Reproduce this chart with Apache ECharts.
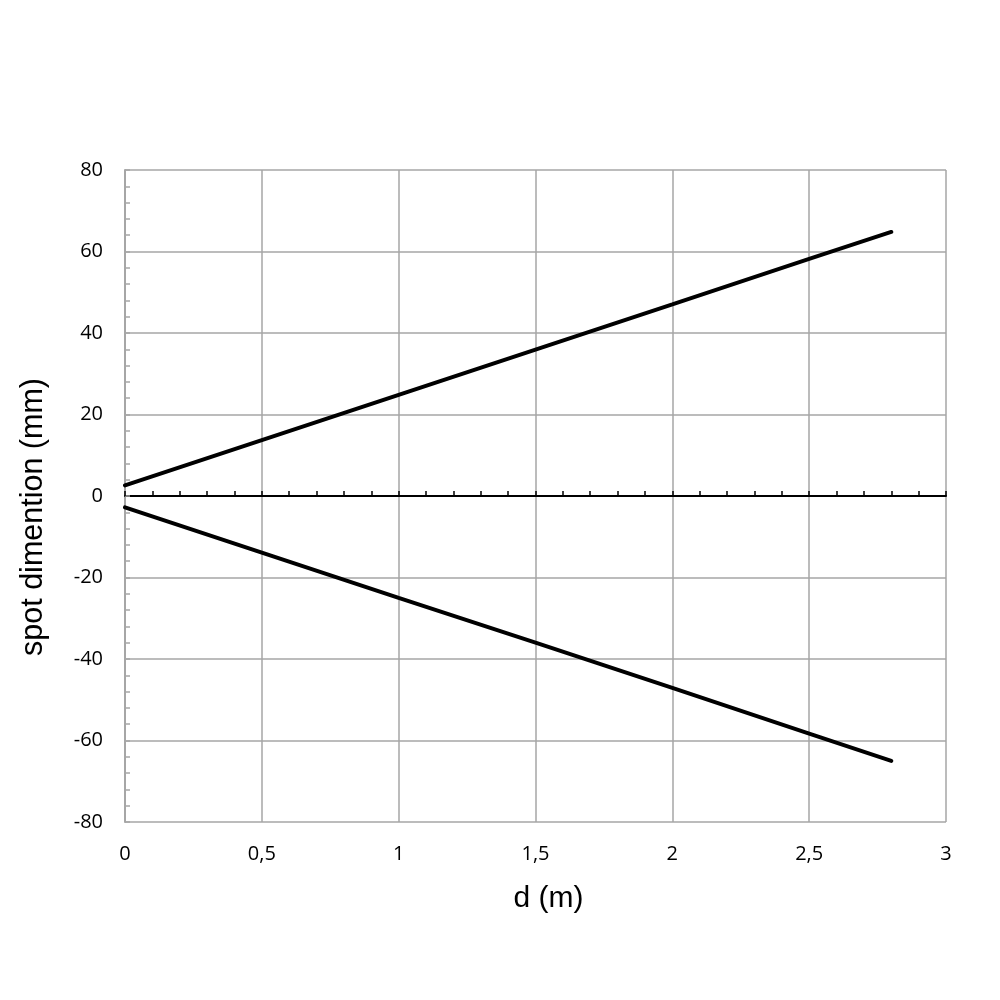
<!DOCTYPE html>
<html><head><meta charset="utf-8">
<script src="https://cdn.jsdelivr.net/npm/echarts@6/dist/echarts.min.js"></script>
<style>html,body{margin:0;padding:0;background:#fff}#c{width:1000px;height:1000px}</style>
</head><body><div id="c"></div>
<script>
const dValues = [0, 0.5, 1, 1.5, 2, 2.5, 2.8];
const upperSpot = [2.6, 13.7, 24.8, 35.9, 47.0, 58.2, 64.8];
const lowerSpot = [-2.8, -13.9, -25.0, -36.0, -47.1, -58.3, -65.0];
const xName = 'd (m)';
const yName = 'spot dimention (mm)';

const chart = echarts.init(document.getElementById('c'));
const grey = '#a6a6a6';
const labelFont = { fontFamily: 'Open Sans', fontSize: 20, color: '#000' };
chart.setOption({
  animation: false,
  grid: { left: 125, right: 54, top: 170, bottom: 178 },
  xAxis: [{
    type: 'value', min: 0, max: 3, interval: 0.5, position: 'bottom',
    name: xName, nameLocation: 'middle', nameGap: 62,
    nameTextStyle: { fontFamily: 'Liberation Sans', fontSize: 30, color: '#000', padding: [0, 0, 0, 26] },
    axisLine: { show: false, onZero: false }, axisTick: { show: false },
    axisLabel: Object.assign({ margin: 22, formatter: v => String(v).replace('.', ',') }, labelFont),
    splitLine: { show: true, lineStyle: { color: grey, width: 1.5 } }
  }, {
    type: 'value', min: 0, max: 3, interval: 0.5, position: 'bottom',
    axisLine: { show: true, onZero: true, onZeroAxisIndex: 0, lineStyle: { color: '#000', width: 2 } },
    axisTick: { show: true, inside: true, length: 5, lineStyle: { color: '#000', width: 1.5 } },
    minorTick: { show: true, splitNumber: 5, length: 5, lineStyle: { color: '#000', width: 1.5 } },
    axisLabel: { show: false }, splitLine: { show: false }
  }],
  yAxis: {
    type: 'value', min: -80, max: 80, interval: 20,
    name: yName, nameLocation: 'middle', nameGap: 76, nameRotate: 90,
    nameTextStyle: { fontFamily: 'Liberation Sans', fontSize: 30.5, color: '#000', padding: [0, 42, 0, 0] },
    axisLine: { show: true, onZero: false, lineStyle: { color: grey, width: 2 } },
    axisTick: { show: true, inside: true, length: 5, lineStyle: { color: grey, width: 1.5 } },
    minorTick: { show: true, splitNumber: 5, length: 5, lineStyle: { color: grey, width: 1.5 } },
    axisLabel: Object.assign({ margin: 22 }, labelFont),
    splitLine: { show: true, lineStyle: { color: grey, width: 1.5 } }
  },
  series: [{
    type: 'line', xAxisIndex: 0, showSymbol: false,
    data: dValues.map((d, i) => [d, upperSpot[i]]),
    lineStyle: { color: '#000', width: 4, cap: 'round' }
  }, {
    type: 'line', xAxisIndex: 0, showSymbol: false,
    data: dValues.map((d, i) => [d, lowerSpot[i]]),
    lineStyle: { color: '#000', width: 4, cap: 'round' }
  }]
});
</script></body></html>
